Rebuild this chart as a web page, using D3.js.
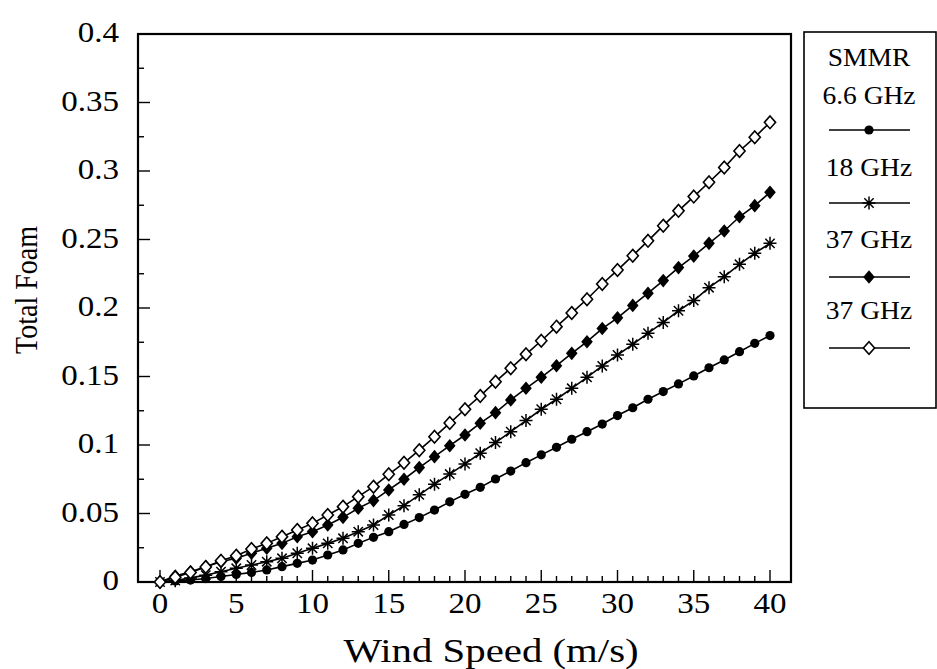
<!DOCTYPE html>
<html>
<head>
<meta charset="utf-8">
<script src="https://cdn.jsdelivr.net/npm/d3@7/dist/d3.min.js"></script>
<style>
  html, body { margin: 0; padding: 0; background: #fff; }
  svg { display: block; }
  text { font-family: "Liberation Serif", "Times New Roman", serif; fill: #000; }
</style>
</head>
<body>
<svg id="chart" width="937" height="669"></svg>
<script>
// ---- data ----
const windSpeed = [0,1,2,3,4,5,6,7,8,9,10,11,12,13,14,15,16,17,18,19,20,21,22,23,24,25,26,27,28,29,30,31,32,33,34,35,36,37,38,39,40];
const smmr66 = [0,0.0008,0.0015,0.0025,0.004,0.0055,0.007,0.0088,0.0112,0.0136,0.016,0.0197,0.0234,0.0282,0.0326,0.0367,0.042,0.047,0.0525,0.0585,0.064,0.0691,0.0752,0.081,0.0871,0.0928,0.0983,0.1042,0.1097,0.1153,0.1215,0.1272,0.1334,0.139,0.1446,0.1504,0.1564,0.1621,0.1681,0.1742,0.1799];
const smmr18 = [0,0.001,0.003,0.005,0.0075,0.01,0.0124,0.0148,0.0173,0.021,0.0246,0.0282,0.0319,0.0367,0.0416,0.0489,0.0557,0.0636,0.0714,0.0788,0.0862,0.094,0.1018,0.1097,0.1178,0.1261,0.1334,0.1414,0.1494,0.1577,0.1657,0.1735,0.1816,0.1895,0.198,0.2054,0.2148,0.2229,0.2319,0.24,0.2472];
const smmr37a = [0,0.0044,0.0075,0.0112,0.0148,0.0173,0.021,0.0246,0.0282,0.033,0.0367,0.0416,0.0472,0.0538,0.0594,0.0672,0.075,0.0835,0.0915,0.0995,0.1073,0.1159,0.1236,0.1329,0.1414,0.1494,0.1579,0.1669,0.1754,0.185,0.1928,0.2019,0.2108,0.22,0.2295,0.2379,0.2472,0.2562,0.2666,0.2747,0.2844];
const smmr37b = [0,0.0035,0.007,0.011,0.0155,0.0192,0.0241,0.0282,0.0331,0.038,0.0428,0.0489,0.055,0.0623,0.0696,0.0786,0.087,0.0962,0.106,0.116,0.1261,0.1358,0.1462,0.156,0.1662,0.1761,0.1864,0.1964,0.2064,0.2175,0.2277,0.2382,0.249,0.2601,0.2709,0.2813,0.2918,0.3025,0.3146,0.3246,0.3355];
const xTickValues = [0,5,10,15,20,25,30,35,40];
const yTickValues = [0,0.05,0.1,0.15,0.2,0.25,0.3,0.35,0.4];
const yTickLabels = ["0","0.05","0.1","0.15","0.2","0.25","0.3","0.35","0.4"];
const legendTitle = "SMMR";
const legendLabels = ["6.6 GHz","18 GHz","37 GHz","37 GHz"];
const xLabel = "Wind Speed (m/s)";
const yLabel = "Total Foam";

const series = [
  {values: smmr66, marker: "circle"},
  {values: smmr18, marker: "star"},
  {values: smmr37a, marker: "diamondFilled"},
  {values: smmr37b, marker: "diamondOpen"}
];

// ---- layout ----
const SX = 1.1; // horizontal stretch of text
const frame = {left: 138, top: 34, right: 791, bottom: 582};
const svg = d3.select("#chart");
const x = d3.scaleLinear().domain([0, 40]).range([160, 770]);
const y = d3.scaleLinear().domain([0, 0.4]).range([582, 34]);

// frame
svg.append("rect")
  .attr("x", frame.left).attr("y", frame.top)
  .attr("width", frame.right - frame.left).attr("height", frame.bottom - frame.top)
  .attr("fill", "none").attr("stroke", "#000").attr("stroke-width", 2.2);

// x ticks (inward)
const xMinor = d3.range(0, 41, 1);
svg.append("g").selectAll("line").data(xMinor).join("line")
  .attr("x1", d => x(d)).attr("x2", d => x(d))
  .attr("y1", frame.bottom).attr("y2", d => frame.bottom - (d % 5 === 0 ? 12 : 6))
  .attr("stroke", "#000").attr("stroke-width", 1.4);

// y ticks (inward)
const yMinor = d3.range(0, 17, 1).map(i => i * 0.025);
svg.append("g").selectAll("line").data(yMinor).join("line")
  .attr("y1", d => y(d)).attr("y2", d => y(d))
  .attr("x1", frame.left).attr("x2", (d, i) => frame.left + (i % 2 === 0 ? 12 : 6))
  .attr("stroke", "#000").attr("stroke-width", 1.4);

// x tick labels
svg.append("g").selectAll("text").data(xTickValues).join("text")
  .attr("transform", d => `translate(${x(d)},613) scale(${SX},1)`)
  .attr("text-anchor", "middle").attr("font-size", 30)
  .text(d => d);

// y tick labels
svg.append("g").selectAll("text").data(yTickValues).join("text")
  .attr("transform", d => `translate(119,${y(d) + 8}) scale(${SX},1)`)
  .attr("text-anchor", "end").attr("font-size", 30)
  .text((d, i) => yTickLabels[i]);

// axis titles
svg.append("text")
  .attr("transform", `translate(491,662) scale(1.2,1)`)
  .attr("text-anchor", "middle").attr("font-size", 34)
  .text(xLabel);
svg.append("text")
  .attr("transform", `translate(37,290) rotate(-90) scale(1,1.15)`)
  .attr("text-anchor", "middle").attr("font-size", 28)
  .text(yLabel);

// markers
function drawMarker(g, type) {
  if (type === "circle") {
    g.append("circle").attr("r", 4.6).attr("fill", "#000");
  } else if (type === "star") {
    const r = 6.5, d = r * 0.72;
    g.append("path")
      .attr("d", `M0,${-r}V${r}M${-r},0H${r}M${-d},${-d}L${d},${d}M${-d},${d}L${d},${-d}`)
      .attr("stroke", "#000").attr("stroke-width", 1.5).attr("fill", "none");
  } else if (type === "diamondFilled") {
    g.append("path").attr("d", "M0,-6.8L5.8,0L0,6.8L-5.8,0Z").attr("fill", "#000");
  } else if (type === "diamondOpen") {
    g.append("path").attr("d", "M0,-6.3L5.6,0L0,6.3L-5.6,0Z")
      .attr("fill", "#fff").attr("stroke", "#000").attr("stroke-width", 1.6);
  }
}

const line = d3.line().x((d, i) => x(windSpeed[i])).y(d => y(d));
const plot = svg.append("g");
series.forEach(s => {
  plot.append("path").datum(s.values).attr("d", line)
    .attr("fill", "none").attr("stroke", "#000").attr("stroke-width", 1.6);
});
series.forEach(s => {
  s.values.forEach((v, i) => {
    const g = plot.append("g").attr("transform", `translate(${x(windSpeed[i])},${y(v)})`);
    drawMarker(g, s.marker);
  });
});

// legend
const leg = svg.append("g");
leg.append("rect").attr("x", 804).attr("y", 32).attr("width", 132).attr("height", 376)
  .attr("fill", "#fff").attr("stroke", "#000").attr("stroke-width", 1.6);
const legX = 869;
leg.append("text").attr("transform", `translate(${legX},66) scale(${SX},1)`)
  .attr("text-anchor", "middle").attr("font-size", 25).text(legendTitle);
const labelY = [104, 176, 248, 319];
const lineY = [130, 203, 277, 348];
series.forEach((s, i) => {
  leg.append("text").attr("transform", `translate(${legX},${labelY[i]}) scale(${SX},1)`)
    .attr("text-anchor", "middle").attr("font-size", 25).text(legendLabels[i]);
  leg.append("line").attr("x1", 829).attr("x2", 910).attr("y1", lineY[i]).attr("y2", lineY[i])
    .attr("stroke", "#000").attr("stroke-width", 1.5);
  const g = leg.append("g").attr("transform", `translate(${legX},${lineY[i]})`);
  drawMarker(g, s.marker);
});
</script>
</body>
</html>
